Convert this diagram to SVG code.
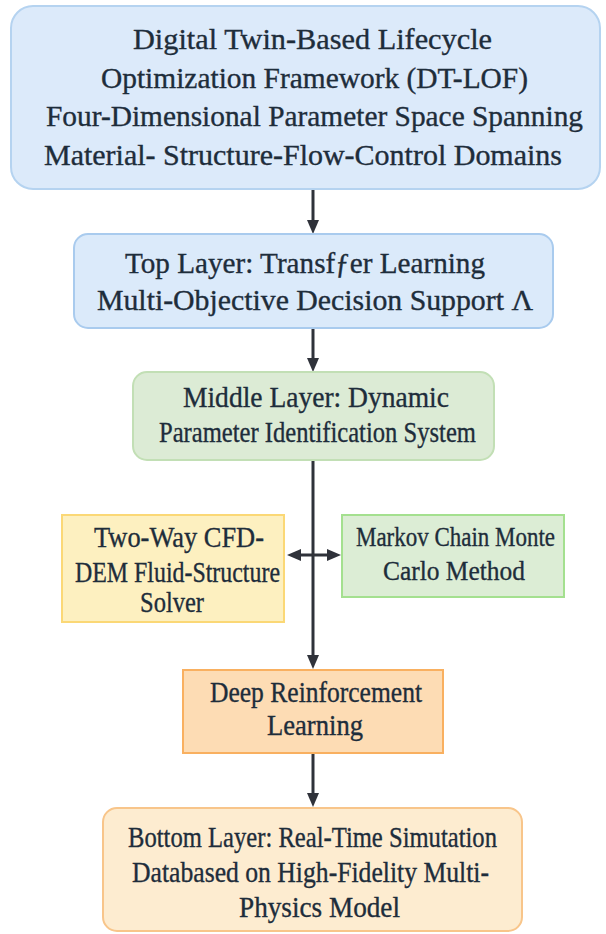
<svg xmlns="http://www.w3.org/2000/svg" width="606" height="934" viewBox="0 0 606 934">
<style>
.t{font-family:"Liberation Serif","DejaVu Serif",serif;font-size:30px;fill:#1e2d3b;stroke:#1e2d3b;stroke-width:0.35px}
.s{font-size:28px}
.c{stroke:#2f323a;stroke-width:3;fill:none}
</style>
<defs>
<marker id="ah" viewBox="0 0 14 12" refX="4" refY="6" markerWidth="14" markerHeight="12" markerUnits="userSpaceOnUse" orient="auto-start-reverse">
<path d="M0,0 L14,6 L0,12 z" fill="#2f323a"/>
</marker>
</defs>
<rect width="606" height="934" fill="#ffffff"/>
<g id="connectors">
<line class="c" x1="313" y1="189" x2="313" y2="224" marker-end="url(#ah)"/>
<line class="c" x1="313" y1="328" x2="313" y2="362" marker-end="url(#ah)"/>
<line class="c" x1="313" y1="460" x2="313" y2="659" marker-end="url(#ah)"/>
<line class="c" x1="313" y1="753" x2="313" y2="797" marker-end="url(#ah)"/>
<line class="c" x1="297" y1="555" x2="331" y2="555" marker-start="url(#ah)" marker-end="url(#ah)"/>
</g>
<g id="framework">
<rect x="11" y="6" width="589" height="183" rx="22" fill="#dceafa" stroke="#b5d3f0" stroke-width="2"/>
<text class="t" x="133" y="49" textLength="359" lengthAdjust="spacingAndGlyphs">Digital Twin-Based Lifecycle</text>
<text class="t" x="101" y="88" textLength="427" lengthAdjust="spacingAndGlyphs">Optimization Framework (DT-LOF)</text>
<text class="t" x="46" y="126" textLength="537" lengthAdjust="spacingAndGlyphs">Four-Dimensional Parameter Space Spanning</text>
<text class="t" x="44" y="165" textLength="518" lengthAdjust="spacingAndGlyphs">Material- Structure-Flow-Control Domains</text>
</g>
<g id="top-layer">
<rect x="74" y="234" width="479" height="94" rx="14" fill="#dbeafa" stroke="#a9cbee" stroke-width="2"/>
<text class="t" x="125" y="273" textLength="360" lengthAdjust="spacingAndGlyphs">Top Layer: Transfƒer Learning</text>
<text class="t" x="97" y="310" textLength="436" lengthAdjust="spacingAndGlyphs">Multi-Objective Decision Support Λ</text>
</g>
<g id="middle-layer">
<rect x="133" y="372" width="361" height="88" rx="14" fill="#dcebd5" stroke="#c2dfb5" stroke-width="2"/>
<text class="t" x="183" y="407" textLength="266" lengthAdjust="spacingAndGlyphs">Middle Layer: Dynamic</text>
<text class="t" x="159" y="442" textLength="317" lengthAdjust="spacingAndGlyphs">Parameter Identification System</text>
</g>
<g id="cfd-dem">
<rect x="62" y="515" width="222" height="107" fill="#fdf0c0" stroke="#fbd876" stroke-width="2"/>
<text class="t" x="94" y="547" textLength="170" lengthAdjust="spacingAndGlyphs">Two-Way CFD-</text>
<text class="t" x="75" y="582" textLength="205" lengthAdjust="spacingAndGlyphs">DEM Fluid-Structure</text>
<text class="t" x="140" y="612" textLength="64" lengthAdjust="spacingAndGlyphs">Solver</text>
</g>
<g id="mcmc">
<rect x="342" y="515" width="222" height="82" fill="#dcedd5" stroke="#a4e08f" stroke-width="2"/>
<text class="t s" x="356" y="546" textLength="199" lengthAdjust="spacingAndGlyphs">Markov Chain  Monte</text>
<text class="t s" x="383" y="580" textLength="142" lengthAdjust="spacingAndGlyphs">Carlo Method</text>
</g>
<g id="drl">
<rect x="183" y="670" width="260" height="83" fill="#fddcb4" stroke="#f9b060" stroke-width="2"/>
<text class="t" x="210" y="702" textLength="212" lengthAdjust="spacingAndGlyphs">Deep Reinforcement</text>
<text class="t" x="267" y="735" textLength="96" lengthAdjust="spacingAndGlyphs">Learning</text>
</g>
<g id="bottom-layer">
<rect x="103" y="808" width="419" height="123" rx="14" fill="#fdecd0" stroke="#f8c58a" stroke-width="2"/>
<text class="t" x="128" y="847" textLength="369" lengthAdjust="spacingAndGlyphs">Bottom Layer: Real-Time Simutation</text>
<text class="t" x="132" y="882" textLength="357" lengthAdjust="spacingAndGlyphs">Databased on High-Fidelity Multi-</text>
<text class="t" x="239" y="917" textLength="161" lengthAdjust="spacingAndGlyphs">Physics  Model</text>
</g>
</svg>
